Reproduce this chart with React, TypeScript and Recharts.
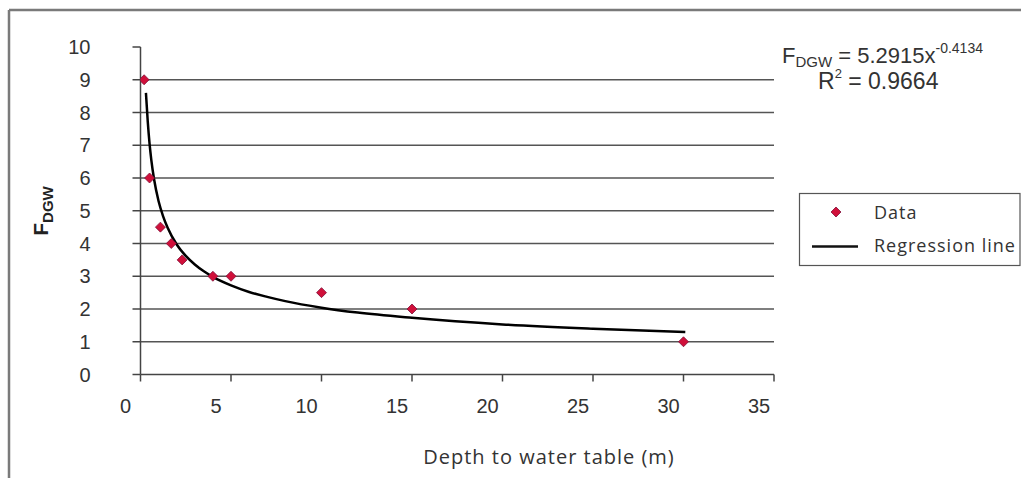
import React from "react";
import {
  ComposedChart,
  Scatter,
  Line,
  XAxis,
  YAxis,
  CartesianGrid,
} from "recharts";

// Observed data points (depth to water table in m, F_DGW)
const dataDepth = [0.2, 0.5, 1.1, 1.7, 2.3, 4, 5, 10, 15, 30];
const dataF = [9, 6, 4.5, 4, 3.5, 3, 3, 2.5, 2, 1];

// Regression line points
const lineDepth = [0.3, 0.4, 0.5, 0.6, 0.75, 1, 1.25, 1.5, 2, 2.5, 3, 3.5, 4, 5, 6, 7, 8, 10, 12, 15, 20, 25, 30.1];
const lineF = [8.6, 7.73, 7.05, 6.54, 5.96, 5.29, 4.83, 4.48, 3.97, 3.62, 3.36, 3.15, 2.98, 2.72, 2.52, 2.37, 2.24, 2.04, 1.89, 1.73, 1.53, 1.4, 1.3];

const xTicks = [0, 5, 10, 15, 20, 25, 30, 35];
const yTicks = [0, 1, 2, 3, 4, 5, 6, 7, 8, 9, 10];
const gridValues = [1, 2, 3, 4, 5, 6, 7, 8, 9];

const points = dataDepth.map((x, i) => ({ x, y: dataF[i] }));
const curve = lineDepth.map((x, i) => ({ x, y: lineF[i] }));

const ARIAL = "'Liberation Sans', Arial, sans-serif";
const OPEN = "'Open Sans', 'Noto Sans', sans-serif";

const Diamond = (props: any) => {
  const { cx, cy } = props;
  if (cx == null || cy == null) return null;
  const r = 5;
  return (
    <polygon
      points={`${cx},${cy - r} ${cx + r},${cy} ${cx},${cy + r} ${cx - r},${cy}`}
      fill="#d0103a"
      stroke="#80103a"
      strokeWidth={0.8}
    />
  );
};

const XTick = (props: any) => {
  const { x, y, payload } = props;
  return (
    <text x={x - 15} y={y + 29} textAnchor="middle" fill="#333" fontSize={20} fontFamily={ARIAL}>
      {payload.value}
    </text>
  );
};

const YTick = (props: any) => {
  const { x, y, payload } = props;
  return (
    <text x={x - 40} y={y + 7} textAnchor="end" fill="#333" fontSize={20} fontFamily={ARIAL}>
      {payload.value}
    </text>
  );
};

const XLabel = (props: any) => {
  const vb = props.viewBox || { x: 0, y: 0 };
  return (
    <text
      x={vb.x + 408.5}
      y={vb.y + 89}
      textAnchor="middle"
      fill="#333"
      fontSize={20}
      letterSpacing={1}
      fontFamily={OPEN}
    >
      Depth to water table (m)
    </text>
  );
};

export default function App() {
  return (
    <div style={{ position: "absolute", left: 0, top: 0, width: 1021, height: 478, background: "#fff" }}>
      <ComposedChart
        width={1021}
        height={478}
        margin={{ top: 47, right: 247, bottom: 43.5, left: 40.5 }}
      >
        <CartesianGrid
          vertical={false}
          horizontalValues={gridValues}
          stroke="#555"
          strokeWidth={1.5}
        />
        <XAxis
          type="number"
          dataKey="x"
          domain={[0, 35]}
          ticks={xTicks}
          height={60}
          tickSize={7}
          axisLine={{ stroke: "#444", strokeWidth: 1.5 }}
          tickLine={{ stroke: "#444", strokeWidth: 1.5 }}
          tick={<XTick />}
          label={<XLabel />}
          allowDataOverflow
        />
        <YAxis
          type="number"
          dataKey="y"
          domain={[0, 10]}
          ticks={yTicks}
          width={100}
          tickSize={8}
          axisLine={{ stroke: "#444", strokeWidth: 1.5 }}
          tickLine={{ stroke: "#444", strokeWidth: 1.5 }}
          tick={<YTick />}
          allowDataOverflow
        />
        <Line
          data={curve}
          dataKey="y"
          type="monotone"
          stroke="#000"
          strokeWidth={2.5}
          dot={false}
          activeDot={false}
          isAnimationActive={false}
          name="Regression line"
        />
        <Scatter
          data={points}
          dataKey="y"
          shape={<Diamond />}
          isAnimationActive={false}
          name="Data"
        />
      </ComposedChart>
      <svg
        width={1021}
        height={478}
        style={{ position: "absolute", left: 0, top: 0, pointerEvents: "none" }}
      >
        <line x1={9} y1={10} x2={1021} y2={10} stroke="#7a7a7a" strokeWidth={2.5} />
        <line x1={9} y1={10} x2={9} y2={478} stroke="#7a7a7a" strokeWidth={2.5} />
        <text x={782} y={63} fill="#333" fontSize={22} fontFamily={ARIAL}>
          F
          <tspan fontSize={15} dy={4}>DGW</tspan>
          <tspan dy={-4}> = 5.2915x</tspan>
          <tspan fontSize={14} dy={-10}>-0.4134</tspan>
        </text>
        <text x={818} y={89} fill="#333" fontSize={23} fontFamily={ARIAL}>
          R
          <tspan fontSize={13} dy={-11}>2</tspan>
          <tspan dy={11}> = 0.9664</tspan>
        </text>
        <text
          transform="translate(48,211) rotate(-90)"
          textAnchor="middle"
          fill="#222"
          fontSize={21}
          fontWeight="bold"
          fontFamily={ARIAL}
        >
          F<tspan fontSize={15} dy={5}>DGW</tspan>
        </text>
        {/* Legend */}
        <rect x={799.5} y={193.5} width={220.5} height={72} fill="#fff" stroke="#555" strokeWidth={1.2} />
        <polygon points="836,207 841,212 836,217 831,212" fill="#d0103a" stroke="#80103a" strokeWidth={0.8} />
        <text x={874} y={219} fill="#333" fontSize={18} letterSpacing={1} fontFamily={OPEN}>
          Data
        </text>
        <line x1={812} x2={858} y1={246.5} y2={246.5} stroke="#111" strokeWidth={2.5} />
        <text x={874} y={252} fill="#333" fontSize={18} letterSpacing={1} fontFamily={OPEN}>
          Regression line
        </text>
      </svg>
    </div>
  );
}
